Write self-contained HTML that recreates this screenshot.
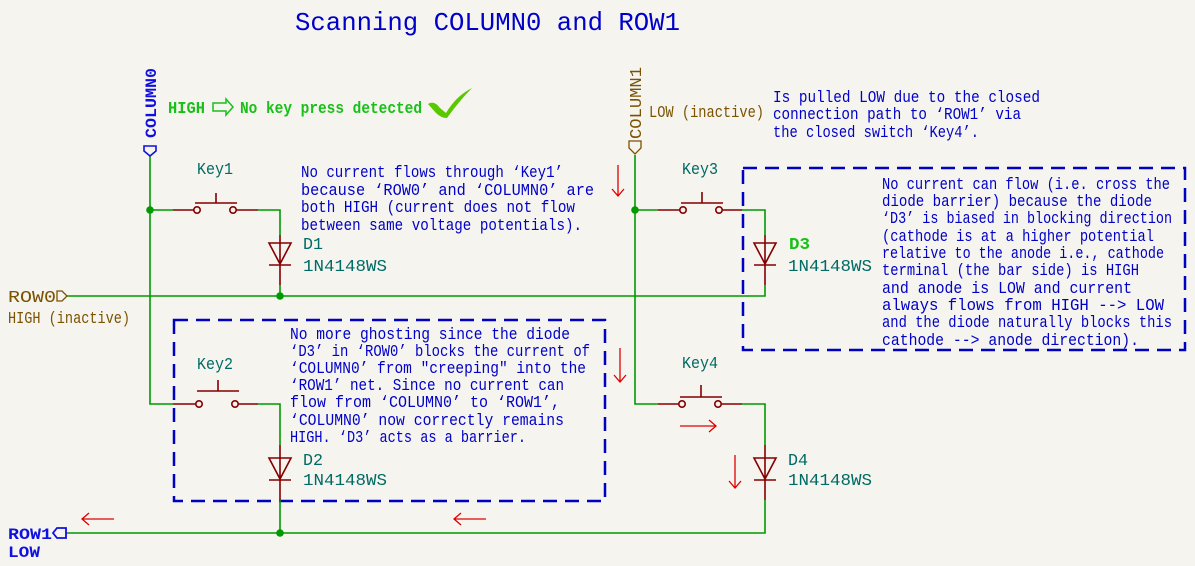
<!DOCTYPE html>
<html><head><meta charset="utf-8"><style>
html,body{margin:0;padding:0;background:#f5f4ef;}
svg{display:block;}
text{font-family:"Liberation Mono",monospace;}
</style></head><body>
<svg width="1195" height="566" viewBox="0 0 1195 566" xmlns="http://www.w3.org/2000/svg">
<rect width="1195" height="566" fill="#f5f4ef"/>
<text x="295" y="30" font-size="26" fill="#0000c8" textLength="385" lengthAdjust="spacingAndGlyphs">Scanning COLUMN0 and ROW1</text>

<g fill="none" stroke="#0000c0" stroke-width="2.5" stroke-dasharray="14,8">
<rect x="174" y="320" width="431" height="181"/>
<rect x="743" y="168" width="442" height="182"/>
</g>

<g fill="none" stroke="#009a00" stroke-width="1.6">
<path d="M150 155 V404 H173"/>
<path d="M150 210 H173"/>
<path d="M258 210 H280 V235"/>
<path d="M280 285 V296"/>
<path d="M66 296 H765 V285"/>
<path d="M765 235 V210 H742"/>
<path d="M635 155 V404 H658"/>
<path d="M635 210 H658"/>
<path d="M258 404 H280 V445"/>
<path d="M280 500 V533"/>
<path d="M66 533 H765 V500"/>
<path d="M765 445 V404 H742"/>
</g>
<g fill="#009a00">
<circle cx="150" cy="210" r="3.8"/><circle cx="280" cy="296" r="3.8"/>
<circle cx="635" cy="210" r="3.8"/><circle cx="280" cy="533" r="3.8"/>
</g>

<g fill="none" stroke="#840000" stroke-width="1.6">
<path d="M173 210 H194 M236 210 H258"/>
<circle cx="197" cy="210" r="3.2"/><circle cx="233" cy="210" r="3.2"/>
<path d="M195 203 H237 M216 203 V193"/>
<path d="M173 404 H196 M238 404 H258"/>
<circle cx="199" cy="404" r="3.2"/><circle cx="235" cy="404" r="3.2"/>
<path d="M197 391 H239 M218 391 V380"/>
<path d="M658 210 H680 M722 210 H742"/>
<circle cx="683" cy="210" r="3.2"/><circle cx="719" cy="210" r="3.2"/>
<path d="M681 203 H723 M702 203 V192"/>
<path d="M658 404 H679 M721 404 H742"/>
<circle cx="682" cy="404" r="3.2"/><circle cx="718" cy="404" r="3.2"/>
<path d="M680 397 H722 M701 397 V385"/>
<path d="M280 235 V285 M269 243 H291 L280 264 Z M269 265 H291"/>
<path d="M765 235 V285 M754 243 H776 L765 264 Z M754 265 H776"/>
<path d="M280 445 V500 M269 458 H291 L280 479 Z M269 480 H291"/>
<path d="M765 445 V500 M754 458 H776 L765 479 Z M754 480 H776"/>
</g>

<path d="M144 146 H156 V151 L150 156 L144 151 Z" fill="none" stroke="#1010e0" stroke-width="1.6"/>
<text transform="translate(156,138) rotate(-90)" font-size="16" font-weight="bold" fill="#1010e0" textLength="70" lengthAdjust="spacingAndGlyphs">COLUMN0</text>
<path d="M629 141 H641 V148 L635 154 L629 148 Z" fill="none" stroke="#7a5200" stroke-width="1.3"/>
<text transform="translate(641,139) rotate(-90)" font-size="17" fill="#7a5200" textLength="72" lengthAdjust="spacingAndGlyphs">COLUMN1</text>
<path d="M57 291 H62 L67 296 L62 301 H57 Z" fill="none" stroke="#7a5200" stroke-width="1.3"/>
<text x="8" y="302" font-size="17" fill="#7a5200" textLength="48" lengthAdjust="spacingAndGlyphs">ROW0</text>
<text x="8" y="323" font-size="17" fill="#7a5200" textLength="122" lengthAdjust="spacingAndGlyphs">HIGH (inactive)</text>
<path d="M57 528 H66 V538 H57 L53 533 Z" fill="none" stroke="#1010e0" stroke-width="1.8"/>
<text x="8" y="539" font-size="16" font-weight="bold" fill="#1010e0" textLength="44" lengthAdjust="spacingAndGlyphs">ROW1</text>
<text x="8" y="557" font-size="16" font-weight="bold" fill="#1010e0" textLength="32" lengthAdjust="spacingAndGlyphs">LOW</text>
<text x="649" y="117" font-size="17" fill="#7a5200" textLength="115" lengthAdjust="spacingAndGlyphs">LOW (inactive)</text>

<text x="168" y="113" font-size="17" font-weight="bold" fill="#18c018" textLength="37" lengthAdjust="spacingAndGlyphs">HIGH</text>
<path d="M213 103 H226 V99 L233 107 L226 115 V111 H213 Z" fill="none" stroke="#18c018" stroke-width="1.5"/>
<text x="240" y="113" font-size="17" font-weight="bold" fill="#18c018" textLength="182" lengthAdjust="spacingAndGlyphs">No key press detected</text>
<path d="M428 104 Q434 100 440 108 L446 113 Q456 96 472 88 Q460 100 447 118 Q441 118 436 113 Z" fill="#5ac800"/>

<g font-size="17" fill="#006a64">
<text x="197" y="174" textLength="36" lengthAdjust="spacingAndGlyphs">Key1</text>
<text x="197" y="369" textLength="36" lengthAdjust="spacingAndGlyphs">Key2</text>
<text x="682" y="174" textLength="36" lengthAdjust="spacingAndGlyphs">Key3</text>
<text x="682" y="368" textLength="36" lengthAdjust="spacingAndGlyphs">Key4</text>
<text x="303" y="249" textLength="20" lengthAdjust="spacingAndGlyphs">D1</text>
<text x="303" y="271" textLength="84" lengthAdjust="spacingAndGlyphs">1N4148WS</text>
<text x="303" y="465" textLength="20" lengthAdjust="spacingAndGlyphs">D2</text>
<text x="303" y="485" textLength="84" lengthAdjust="spacingAndGlyphs">1N4148WS</text>
<text x="788" y="271" textLength="84" lengthAdjust="spacingAndGlyphs">1N4148WS</text>
<text x="788" y="465" textLength="20" lengthAdjust="spacingAndGlyphs">D4</text>
<text x="788" y="485" textLength="84" lengthAdjust="spacingAndGlyphs">1N4148WS</text>
</g>
<text x="789" y="249" font-size="17" font-weight="bold" fill="#18c018" textLength="21" lengthAdjust="spacingAndGlyphs">D3</text>

<g font-size="17" fill="#0000c8">
<text x="301" y="177" textLength="262" lengthAdjust="spacingAndGlyphs">No current flows through ‘Key1’</text>
<text x="301" y="195" textLength="293" lengthAdjust="spacingAndGlyphs">because ‘ROW0’ and ‘COLUMN0’ are</text>
<text x="301" y="212" textLength="274" lengthAdjust="spacingAndGlyphs">both HIGH (current does not flow</text>
<text x="301" y="230" textLength="281" lengthAdjust="spacingAndGlyphs">between same voltage potentials).</text>

<text x="773" y="102" textLength="267" lengthAdjust="spacingAndGlyphs">Is pulled LOW due to the closed</text>
<text x="773" y="119" textLength="248" lengthAdjust="spacingAndGlyphs">connection path to ‘ROW1’ via</text>
<text x="773" y="137" textLength="206" lengthAdjust="spacingAndGlyphs">the closed switch ‘Key4’.</text>

<text x="290" y="339" textLength="280" lengthAdjust="spacingAndGlyphs">No more ghosting since the diode</text>
<text x="290" y="356" textLength="300" lengthAdjust="spacingAndGlyphs">‘D3’ in ‘ROW0’ blocks the current of</text>
<text x="290" y="373" textLength="296" lengthAdjust="spacingAndGlyphs">‘COLUMN0’ from "creeping" into the</text>
<text x="290" y="390" textLength="274" lengthAdjust="spacingAndGlyphs">‘ROW1’ net. Since no current can</text>
<text x="290" y="407" textLength="270" lengthAdjust="spacingAndGlyphs">flow from ‘COLUMN0’ to ‘ROW1’,</text>
<text x="290" y="425" textLength="274" lengthAdjust="spacingAndGlyphs">‘COLUMN0’ now correctly remains</text>
<text x="290" y="442" textLength="236" lengthAdjust="spacingAndGlyphs">HIGH. ‘D3’ acts as a barrier.</text>

<text x="882" y="189" textLength="288" lengthAdjust="spacingAndGlyphs">No current can flow (i.e. cross the</text>
<text x="882" y="206" textLength="270" lengthAdjust="spacingAndGlyphs">diode barrier) because the diode</text>
<text x="882" y="223" textLength="290" lengthAdjust="spacingAndGlyphs">‘D3’ is biased in blocking direction</text>
<text x="882" y="241" textLength="272" lengthAdjust="spacingAndGlyphs">(cathode is at a higher potential</text>
<text x="882" y="258" textLength="282" lengthAdjust="spacingAndGlyphs">relative to the anode i.e., cathode</text>
<text x="882" y="275" textLength="257" lengthAdjust="spacingAndGlyphs">terminal (the bar side) is HIGH</text>
<text x="882" y="293" textLength="250" lengthAdjust="spacingAndGlyphs">and anode is LOW and current</text>
<text x="882" y="310" textLength="282" lengthAdjust="spacingAndGlyphs">always flows from HIGH --&gt; LOW</text>
<text x="882" y="327" textLength="290" lengthAdjust="spacingAndGlyphs">and the diode naturally blocks this</text>
<text x="882" y="345" textLength="257" lengthAdjust="spacingAndGlyphs">cathode --&gt; anode direction).</text>
</g>

<g fill="none" stroke="#e00000" stroke-width="1.3">
<path d="M618 165 V196 M612 189 L618 196 L624 189"/>
<path d="M620 348 V382 M614 375 L620 382 L626 375"/>
<path d="M680 426 H716 M709 420 L716 426 L709 432"/>
<path d="M735 455 V488 M729 481 L735 488 L741 481"/>
<path d="M82 519 H114 M89 513 L82 519 L89 525"/>
<path d="M454 519 H486 M461 513 L454 519 L461 525"/>
</g>
</svg>
</body></html>
